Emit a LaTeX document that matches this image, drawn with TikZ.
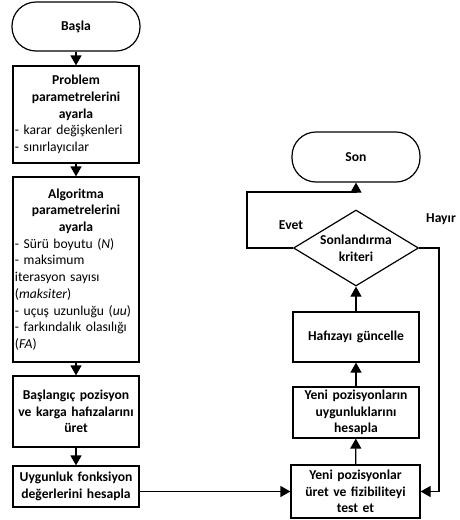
\documentclass[tikz,border=0pt]{standalone}
\usepackage{fontspec}
\setmainfont{Carlito}
\usetikzlibrary{shapes.geometric,arrows.meta}
\newcommand{\lft}[1]{\makebox[122pt][l]{#1}}
\newcommand{\fs}{\fontsize{13.6}{16.7}\selectfont}
\begin{document}
\begin{tikzpicture}[x=1pt,y=-1pt,
  every node/.style={font=\fs},
  box/.style={draw,line width=1.2pt,align=center,text width=122pt,inner sep=1pt},
  bbox/.style={box,font=\fs\bfseries},
  term/.style={draw,line width=1.2pt,rounded corners=24pt,align=center,font=\fs\bfseries},
  dec/.style={draw,line width=1.2pt,diamond,aspect=1.65,inner sep=0pt,align=center,font=\fs\bfseries},
  conn/.style={line width=1.2pt,-{Triangle[length=10pt,width=11pt]}},
  lbl/.style={font=\fs\bfseries}]
\useasboundingbox (0,0) rectangle (459,520);
% left column
\node[term,minimum width=128pt,minimum height=49pt] (start) at (76,26.5) {Başla};
\node[box,minimum width=126pt,minimum height=97pt] (prob) at (76,114.5)
 {\textbf{Problem}\\\textbf{parametrelerini}\\\textbf{ayarla}\\\lft{- karar değişkenleri}\\\lft{- sınırlayıcılar}};
\node[box,minimum width=126pt,minimum height=185pt] (alg) at (76,269.5)
 {\textbf{Algoritma}\\\textbf{parametrelerini}\\\textbf{ayarla}\\\lft{- Sürü boyutu (\textit{N})}\\\lft{- maksimum}\\\lft{iterasyon sayısı}\\\lft{(\textit{maksiter})}\\\lft{- uçuş uzunluğu (\textit{uu})}\\\lft{- farkındalık olasılığı}\\\lft{(\textit{FA})}};
\node[bbox,minimum width=126pt,minimum height=71pt] (init) at (76,411.5)
 {Başlangıç pozisyon\\ve karga hafızalarını\\üret};
\node[bbox,minimum width=126pt,minimum height=41pt] (fit) at (76,486.5)
 {Uygunluk fonksiyon\\değerlerini hesapla};
% right column
\node[term,minimum width=128pt,minimum height=50pt] (son) at (356,157) {Son};
\node[dec,minimum width=125pt,minimum height=76pt] (crit) at (356,248) {Sonlandırma\\kriteri};
\node[bbox,minimum width=126pt,minimum height=50pt] (mem) at (356,337) {Hafızayı güncelle};
\node[bbox,minimum width=126pt,minimum height=51pt] (eval) at (356,412.5)
 {Yeni pozisyonların\\uygunluklarını\\hesapla};
\node[bbox,minimum width=129pt,minimum height=53pt] (gen) at (355.5,491.5)
 {Yeni pozisyonlar\\üret ve fizibiliteyi\\test et};
\coordinate (yl) at (247,192);
\coordinate (nr) at (439,248);
% connectors
\draw[conn] (start) -- (prob);
\draw[conn] (prob) -- (alg);
\draw[conn] (alg) -- (init);
\draw[conn] (init) -- (fit);
\draw[conn] (fit.east |- gen.west) -- (gen.west);
\draw[conn] (gen) -- (eval);
\draw[conn] (eval) -- (mem);
\draw[conn] (mem) -- (crit);
\draw[conn] (crit.west) -| (yl) -| (son.south);
\draw[conn] (crit.east) -- (nr) |- (gen.east);
\node[lbl] (evet) at (291,225) {Evet};
\node[lbl] (hayir) at (441,219) {Hayır};
\end{tikzpicture}
\end{document}
